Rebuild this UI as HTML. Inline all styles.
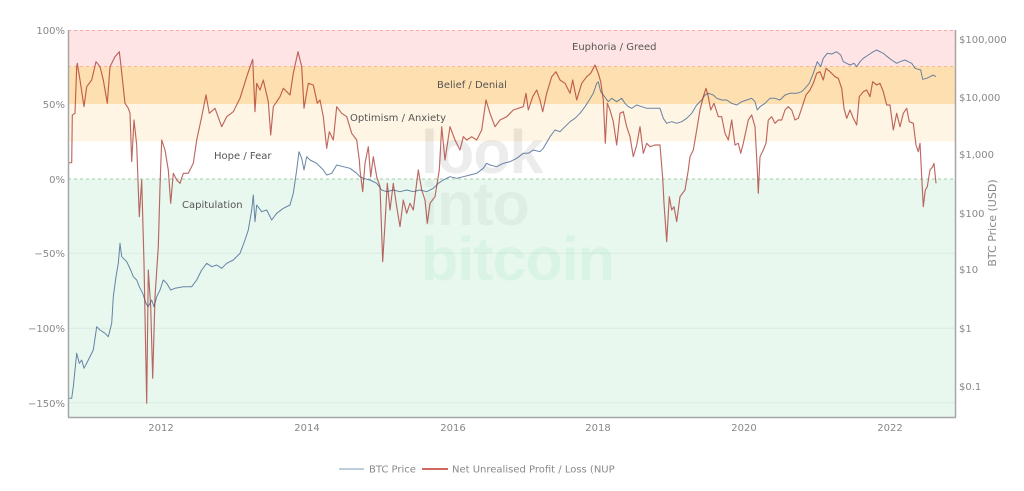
<!DOCTYPE html>
<html>
<head>
<meta charset="utf-8">
<style>
html,body{margin:0;padding:0;background:#fff;}
svg{display:block;}
.t{font-family:"DejaVu Sans","Liberation Sans",sans-serif;font-size:10px;fill:#888;}
.b{font-family:"DejaVu Sans","Liberation Sans",sans-serif;font-size:10px;fill:#555;}
.w{font-family:"Liberation Sans",sans-serif;font-weight:bold;font-size:61px;letter-spacing:-1px;}
</style>
</head>
<body>
<svg width="1024" height="491" viewBox="0 0 1024 491" xmlns="http://www.w3.org/2000/svg">
<rect x="0" y="0" width="1024" height="491" fill="#fff"/>
<!-- bands -->
<rect x="68" y="30" width="888" height="36.5" fill="#fee4e4"/>
<rect x="68" y="66.5" width="888" height="37.5" fill="#fedfb0"/>
<rect x="68" y="104" width="888" height="37.5" fill="#fff5e4"/>
<rect x="68" y="141.5" width="888" height="37.5" fill="#ffffff"/>
<rect x="68" y="179" width="888" height="238" fill="#e8f8ef"/>
<!-- grid -->
<line x1="68" y1="253.3" x2="956" y2="253.3" stroke="#d9ebe0" stroke-width="1"/>
<line x1="68" y1="328.3" x2="956" y2="328.3" stroke="#d9ebe0" stroke-width="1"/>
<line x1="68" y1="402.7" x2="956" y2="402.7" stroke="#d9ebe0" stroke-width="1"/>
<!-- dashed -->
<line x1="68" y1="30.5" x2="956" y2="30.5" stroke="#f5a9a9" stroke-width="1" stroke-dasharray="3,3"/>
<line x1="68" y1="66.5" x2="956" y2="66.5" stroke="#f7b98e" stroke-width="1" stroke-dasharray="3,3"/>
<line x1="68" y1="179" x2="956" y2="179" stroke="#9ccfa6" stroke-width="1" stroke-dasharray="3,3"/>
<!-- watermark -->
<text class="w" x="421" y="173" fill="#000" fill-opacity="0.075">look</text>
<text class="w" x="421" y="225" fill="#000" fill-opacity="0.04">into</text>
<text class="w" x="421" y="280" fill="#22c25a" fill-opacity="0.07">bitcoin</text>
<!-- band labels -->
<text class="b" x="572" y="50">Euphoria / Greed</text>
<text class="b" x="437" y="88">Belief / Denial</text>
<text class="b" x="350" y="121">Optimism / Anxiety</text>
<text class="b" x="214" y="159">Hope / Fear</text>
<text class="b" x="182" y="208">Capitulation</text>
<!-- BTC price -->
<polyline fill="none" stroke="#4d6f96" stroke-opacity="0.85" stroke-width="1" stroke-linejoin="round" points="68.3,398.3 71.7,398.3 73.3,386.7 76.7,353.3 79.3,363.3 81.7,360 84,368.3 88.3,360 93.3,350 96.7,326.7 100,330 105,333.3 108.3,336.7 111.7,323.3 113.3,296.7 116,276.7 118.3,263.3 120,243.3 121.7,256.7 126.7,261.7 130.7,270 133.3,276.7 136.7,280 139.3,286.7 142.7,293.3 146,303.3 148.3,306.7 151.7,300 154,306.7 156.7,296.7 160,290 163.3,280 166.7,283.3 170.7,290 175,288.3 183.3,286.7 191.7,286.7 196.7,280 201.7,270 206.7,263.3 211.7,266.7 216.7,265 221.7,268.3 226.7,263.3 233.3,260 240,253.3 245,240 248.3,230 251.7,210 253.3,195 255,221.7 256.7,205 261.7,211.7 266.7,210 271.7,220 276.7,213.3 283.3,208.3 290,205 293.3,193.3 296.7,170 299,151.7 301.7,158.3 304,170 306.7,156.7 310,160 316.7,163.3 323.3,170 326.7,175 331.7,173.3 336.7,165 343.3,166.7 350,168.3 356.7,173.3 360,176.7 363.3,178.3 370,180 376.7,183.3 381.7,190 386.7,191.7 393.3,190 400,191.7 406.7,190 413.3,191.7 420,190 426.7,191.7 433.3,188.3 438.3,183.3 443.3,180 450,176.7 456.7,178.3 463.3,176.7 470,175 476.7,173.3 483.3,168.3 486.7,163.3 490,165 496.7,166.7 503.3,163.3 510,161.7 516.7,158.3 523.3,153.3 528.3,153.3 533.3,150 540,151.7 543.3,148.3 550,136.7 555,130 560,131.7 565,126.7 570,121.7 575,118.3 580,113.3 585,106.7 589.3,100 593.3,93.3 596.7,83.3 598.3,81.7 600.7,91.7 603.3,95 608.3,101.7 611.7,98.3 616.7,101.7 621.7,98.3 625,103.3 628.3,106.7 631.7,108.3 636.7,105 641.7,106.7 646.7,108.3 653.3,108.3 660,108.3 663.3,118.3 666.7,123.3 671.7,121.7 676.7,123.3 681.7,121.7 686.7,118.3 691.7,113.3 696.7,105 701.7,100 705,95 708.3,93.3 713.3,95 716.7,98.3 721.7,100 726.7,100 731.7,103.3 736.7,105 741.7,101.7 746.7,100 751.7,98.3 755,101.7 757.3,110 760,106.7 765,103.3 770,98.3 775,98.3 780,100 785,95 790,93.3 796.7,93.3 801.7,91.7 805,88.3 809.3,83.3 813.3,73.3 817.3,61.7 820.7,66.7 823.3,58.3 827.3,53.3 831.7,54 836.7,51.7 840.7,55 843.3,61.7 846.7,63.3 850,65 854,63.3 856.7,66.7 860,61.7 863.3,58.3 868.3,55 873.3,51.7 876.7,50 880,51.7 883.3,53.3 887.3,56.7 891.7,60 896.7,63.3 900,61.7 905,60 908.3,61.7 911.7,63.3 915,68.3 918.3,69.3 920.7,70 922.7,79.3 926.7,78.3 930,76.7 933.3,75 936,76.7"/>
<!-- NUPL -->
<polyline fill="none" stroke="#a32a22" stroke-opacity="0.7" stroke-width="1.15" stroke-linejoin="round" points="68.3,162.7 71.7,162.7 72.3,115 75,113.3 76.7,66.7 77.3,63.3 80,80 84,106.7 86.7,86.7 91.7,80 96,61.7 100,66.7 103.3,80 107.3,103.3 110,66.7 115,56.7 119.3,51.7 120.7,63.3 125,103.3 128.3,108.3 130,113.3 131.7,161.7 134,120 136.7,145 139.3,216.7 141.7,180 144,263.3 146.7,403.3 148.3,270 150.7,306.7 152.7,378.3 155,296.7 158.3,246.7 160,186.7 161.7,140 165,150 168.3,170 170.7,203.3 173.3,173.3 176.7,180 180,183.3 183.3,173.3 188.3,173.3 193.3,163.3 196.7,140 201.7,116.7 206,95 209.3,113.3 215,108.3 221.7,126.7 226.7,116.7 233.3,111.7 240,98.3 246.7,76.7 252.7,59.3 255,111.7 256.7,83.3 260,90 263.3,80 268.3,101.7 270.7,135 273.3,106.7 280,96.7 283.3,88.3 290,95 293.3,73.3 298,51.7 301.7,66.7 304,108.3 308.3,83.3 313.3,85 317.3,103.3 320,100 323.3,116.7 326.7,148.3 329.3,131.7 333.3,140 336.7,106.7 341.7,113.3 346.7,116.7 351.7,133.3 356.7,140 359.3,160 360,170 362.7,191.7 365,163.3 368.3,146.7 370.7,176.7 373.3,156.7 376.7,176.7 380,186.7 382.7,261.7 385,223.3 387.3,183.3 390,210 393.3,183.3 396.7,206.7 400,226.7 403.3,200 406.7,213.3 410,203.3 413.3,210 418.3,170 421.7,190 425,200 427.3,223.3 430,203.3 435,196.7 439.3,170 441.7,126.7 445,160 450,126.7 455,140 460,150 463.3,136.7 466.7,140 471.7,136.7 476.7,140 481.7,130 486,100 490,113.3 495,126.7 500,120 506.7,116.7 513.3,110 518.3,108.3 523.3,106.7 526,93.3 528.3,110 532.7,96.7 536.7,90 540,100 542.7,111.7 546.7,93.3 551.7,76.7 556,71.7 560,80 565,83.3 570,93.3 572.7,80 576.7,100 581.7,83.3 586.7,76.7 590.7,73.3 595,65 598.3,73.3 600.7,81.7 603.3,100 605.3,143.3 607.3,103.3 610,110 613.3,121.7 616.7,145 620,113.3 623.3,111.7 626.7,126.7 630,136.7 633.3,156.7 636.7,145 640,126.7 643.3,153.3 646.7,143.3 650,146.7 655,145 660,145 662.7,178.3 664,203.3 666.7,241.7 669.3,196.7 671.7,210 674,206.7 676.7,221.7 680,196.7 685,190 688.3,170 690,156.7 693.3,150 696.7,130 700,110 703.3,96.7 706,88.3 708.3,96.7 710.7,110 714,103.3 718.3,116.7 721.7,116.7 725,133.3 728.3,140 731.7,120 735,145 738.3,143.3 740.7,153.3 743.3,143.3 748.3,120 751.7,115 755,126.7 757.3,170 758.3,193.3 760,156.7 763.3,150 766,143.3 768.3,120 771.7,116.7 775,123.3 778.3,120 781.7,120 785,110 788.3,106.7 791.7,110 795,120 798.3,118.3 801.7,108.3 806,95 810,90 813.3,83.3 816.7,73.3 820,71.7 823.3,80 826,68.3 830,71.7 835,76.7 838.3,78.3 841.7,88.3 844,108.3 846.7,118.3 850,110 853.3,118.3 856.7,125 859.3,96.7 863.3,91.7 866.7,90 870,96.7 872.7,81.7 876.7,85 880,83.3 883.3,91.7 886.7,105 890,105 893.3,130 896.7,113.3 900,126.7 903.3,113.3 906.7,108.3 909.3,121.7 913.3,123.3 916,145 918.3,151.7 920,143.3 921.7,176.7 923.3,206.7 925.3,190 927.3,186.7 930,170 932.7,166.7 934,163.3 936,183.3"/>
<!-- axes -->
<line x1="68.5" y1="30" x2="68.5" y2="417.5" stroke="#a6a6a6" stroke-width="1.5"/>
<line x1="955.5" y1="30" x2="955.5" y2="417.5" stroke="#a6a6a6" stroke-width="1.5"/>
<line x1="68" y1="417.5" x2="956" y2="417.5" stroke="#a6a6a6" stroke-width="1.5"/>
<!-- left ticks -->
<g class="t" text-anchor="end">
<text x="65" y="34">100%</text>
<text x="65" y="108">50%</text>
<text x="65" y="183">0%</text>
<text x="65" y="257">−50%</text>
<text x="65" y="332">−100%</text>
<text x="65" y="407">−150%</text>
</g>
<!-- right ticks -->
<g class="t">
<text x="959" y="43">$100,000</text>
<text x="959" y="101">$10,000</text>
<text x="959" y="158">$1,000</text>
<text x="959" y="217">$100</text>
<text x="959" y="273">$10</text>
<text x="959" y="332">$1</text>
<text x="959" y="390">$0.1</text>
</g>
<text class="t" transform="translate(996,223) rotate(-90)" text-anchor="middle" style="font-size:11px">BTC Price (USD)</text>
<!-- x ticks -->
<g class="t" text-anchor="middle">
<text x="161" y="431">2012</text>
<text x="307" y="431">2014</text>
<text x="453" y="431">2016</text>
<text x="598" y="431">2018</text>
<text x="744" y="431">2020</text>
<text x="890" y="431">2022</text>
</g>
<!-- legend -->
<line x1="339" y1="469" x2="364" y2="469" stroke="#a9bcd3" stroke-width="1.5"/>
<text class="t" x="369" y="472.5">BTC Price</text>
<line x1="422" y1="469" x2="448" y2="469" stroke="#c0392b" stroke-width="1.5"/>
<text class="t" x="452" y="472.5">Net Unrealised Profit / Loss (NUP</text>
</svg>
</body>
</html>
